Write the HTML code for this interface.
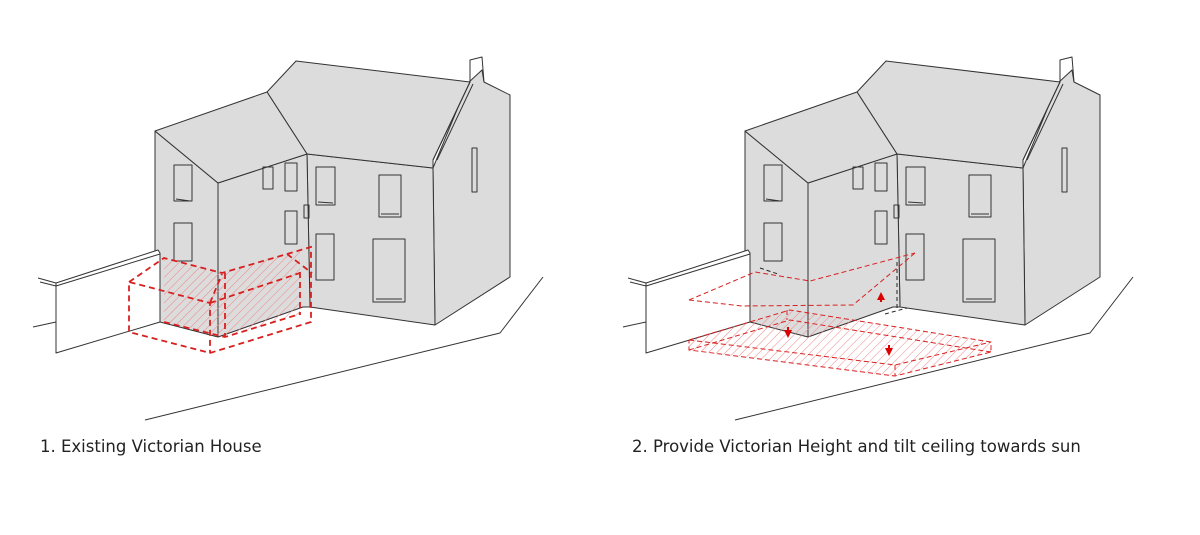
<!DOCTYPE html>
<html><head><meta charset="utf-8"><style>
html,body{margin:0;padding:0;background:#fff;width:1200px;height:535px;overflow:hidden}
svg{display:block}
text{font-family:"DejaVu Sans","Liberation Sans",sans-serif;font-size:16.5px;fill:#222}
</style></head><body>
<svg width="1200" height="535" viewBox="0 0 1200 535">
<defs>
<pattern id="h" width="6" height="6" patternUnits="userSpaceOnUse" patternTransform="rotate(45)">
<line x1="0" y1="0" x2="0" y2="6" stroke="#e88" stroke-width="1"/>
</pattern>
<g id="house" stroke="#333" stroke-width="1" fill="#dcdcdc" stroke-linejoin="round">
<polyline fill="none" points="145,420 500,333 543,277"/>
<polygon points="433,168 468,83 482,70 484,82 510,95 510,277 435,325"/>
<polygon points="307,154 433,168 435,325 310,307"/>
<polygon points="267,92 296,61 470,82 433,160 433,168 307,154"/>
<polyline fill="none" points="433,160 470,82 470,60 482,57 484,82"/>
<line x1="437" y1="160" x2="473" y2="84"/>
<polygon points="155,131 218,183 218,337 160,322 160,253 155,253"/>
<polygon points="218,183 307,154 310,307 303,307 218,337"/>
<polygon points="155,131 267,92 307,154 218,183"/>
<g fill="none">
<rect x="174" y="165" width="18" height="36"/><polyline points="176,199 190,201"/>
<rect x="174" y="223" width="18" height="38"/>
<rect x="263" y="167" width="10" height="22"/>
<rect x="285" y="163" width="12" height="28"/>
<rect x="285" y="211" width="12" height="33"/>
<rect x="304" y="205" width="5" height="13"/>
<rect x="316" y="167" width="19" height="38"/><line x1="318" y1="202" x2="333" y2="203"/>
<rect x="379" y="175" width="22" height="42"/><line x1="381" y1="214" x2="399" y2="214"/>
<rect x="316" y="234" width="18" height="46"/>
<rect x="373" y="239" width="32" height="63"/><line x1="376" y1="299" x2="402" y2="299"/>
<rect x="472" y="148" width="5" height="44"/>
</g>
<polygon fill="#fff" points="56,283 158,250 160,253 160,322 56,353"/>
<line x1="38" y1="278" x2="56" y2="283"/>
<line x1="40" y1="282" x2="56" y2="286"/>
<line x1="56" y1="286" x2="160" y2="254"/>
<line x1="33" y1="327" x2="56" y2="322"/>
</g>
</defs>

<use href="#house"/>
<polygon fill="url(#h)" points="164,258 222,273 300,250 300,315 225,337 164,322"/>
<g fill="none" stroke="#d82020" stroke-width="1.8" stroke-dasharray="6,4">
<polyline points="129,282 164,258 222,273 311,247 311,322 210,353 129,332 129,282 210,303 210,353"/>
<line x1="210" y1="303" x2="222" y2="274"/>
<line x1="210" y1="303" x2="300" y2="273"/>
<line x1="287" y1="254" x2="312" y2="273"/>
<line x1="225" y1="273" x2="225" y2="337"/>
<line x1="300" y1="272" x2="300" y2="315"/>
<polyline points="164,322 225,337 300,314"/>
</g>
<text x="40" y="452">1. Existing Victorian House</text>

<use href="#house" transform="translate(590,0)"/>
<polygon fill="url(#h)" points="689,340 790,310 991,342 991,352 895,376 689,350"/>
<g fill="none" stroke="#d82020" stroke-width="1" stroke-dasharray="5,3">
<polyline points="689,300 742,306 853,305 915,253"/>
<polyline points="689,300 755,272 810,281 915,253"/>
<polyline points="689,340 790,310 991,342 991,352 895,376 689,350 689,340"/>
<polyline points="689,340 895,365 991,342"/>
<polyline points="689,350 790,320 991,352"/>
<line x1="787" y1="310" x2="787" y2="320"/>
<line x1="895" y1="365" x2="895" y2="376"/>
</g>
<g stroke="#222" stroke-width="1" stroke-dasharray="4,3" fill="none">
<line x1="897" y1="262" x2="897" y2="310"/>
<line x1="885" y1="314" x2="907" y2="308"/>
<line x1="760" y1="268" x2="778" y2="274"/>
</g>
<g fill="#d00">
<polygon points="881,292 877,300 885,300"/><rect x="880" y="299" width="2" height="3"/>
<polygon points="788,338 784,330 792,330"/><rect x="787" y="327" width="2" height="3"/>
<polygon points="889,356 885,348 893,348"/><rect x="888" y="345" width="2" height="3"/>
</g>
<text x="632" y="452">2. Provide Victorian Height and tilt ceiling towards sun</text>
</svg>
</body></html>
